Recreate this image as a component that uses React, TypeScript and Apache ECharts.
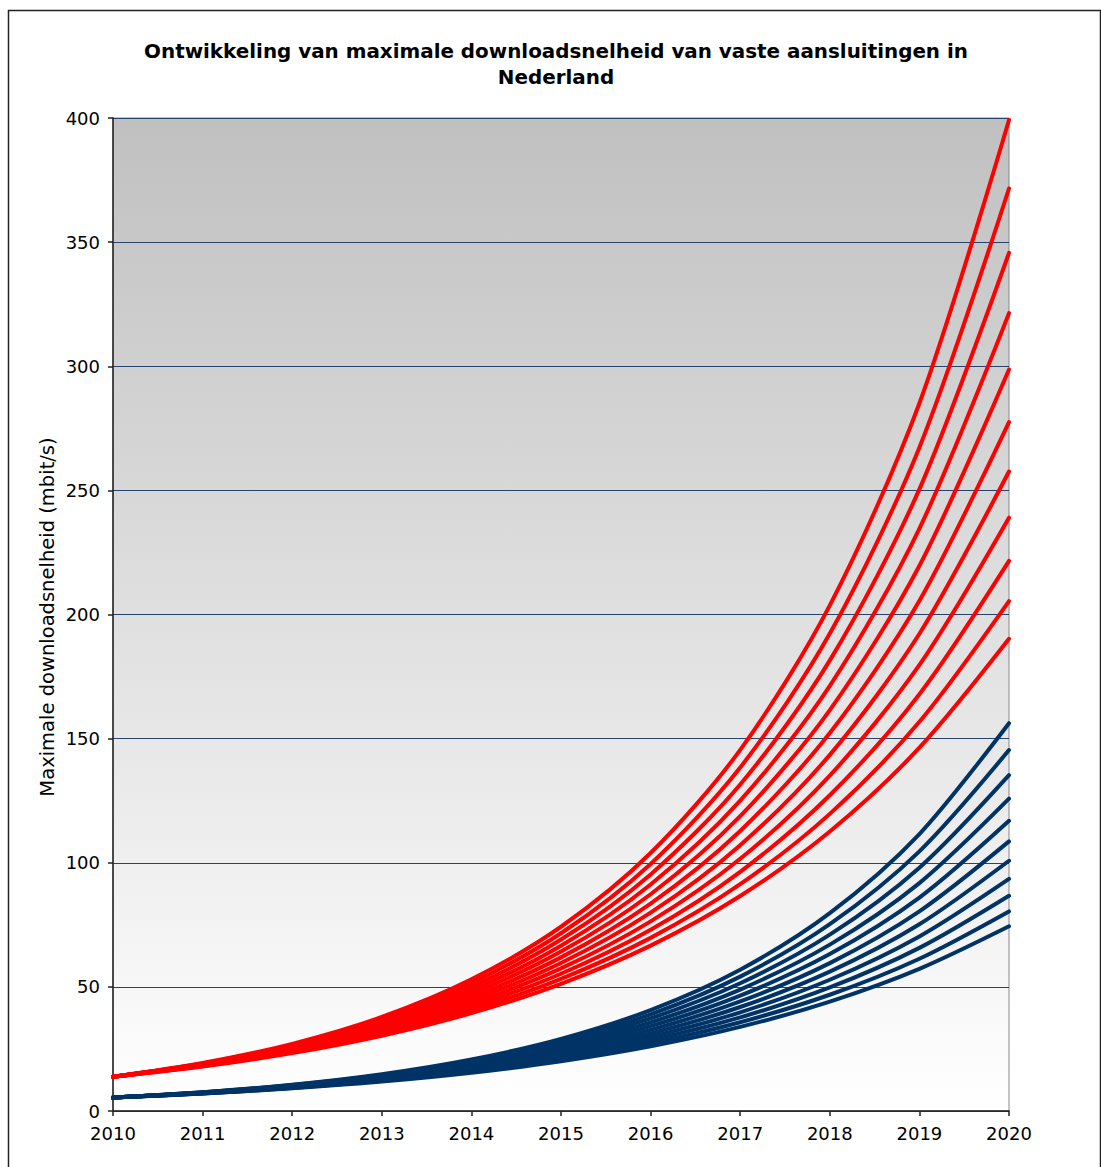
import React, { useEffect, useRef } from "react";
import * as echarts from "echarts";

const years = [2010, 2011, 2012, 2013, 2014, 2015, 2016, 2017, 2018, 2019, 2020];

// Red bundle
const red40 = [13.8, 19.32, 27.05, 37.87, 53.01, 74.22, 103.91, 145.47, 203.66, 285.12, 399.2];
const red39 = [13.8, 19.18, 26.66, 37.06, 51.52, 71.61, 99.53, 138.35, 192.31, 267.31, 371.6];
const red38 = [13.8, 19.04, 26.28, 36.27, 50.05, 69.07, 95.31, 131.53, 181.51, 250.49, 345.7];
const red37 = [13.8, 18.91, 25.9, 35.48, 48.61, 66.6, 91.24, 125.0, 171.26, 234.62, 321.4];
const red36 = [13.8, 18.77, 25.52, 34.71, 47.21, 64.21, 87.32, 118.75, 161.51, 219.65, 298.7];
const red35 = [13.8, 18.63, 25.15, 33.95, 45.84, 61.88, 83.54, 112.78, 152.25, 205.53, 277.5];
const red34 = [13.8, 18.49, 24.78, 33.2, 44.49, 59.62, 79.89, 107.06, 143.46, 192.23, 257.6];
const red33 = [13.8, 18.35, 24.41, 32.47, 43.18, 57.43, 76.38, 101.59, 135.11, 179.7, 239.0];
const red32 = [13.8, 18.22, 24.05, 31.74, 41.9, 55.3, 73.0, 96.36, 127.2, 167.9, 221.6];
const red31 = [13.8, 18.08, 23.68, 31.02, 40.64, 53.24, 69.74, 91.36, 119.69, 156.79, 205.4];
const red30 = [13.8, 17.94, 23.32, 30.32, 39.41, 51.24, 66.61, 86.59, 112.57, 146.34, 190.2];

// Blue bundle
const blue40 = [5.4, 7.56, 10.58, 14.82, 20.75, 29.04, 40.66, 56.92, 79.69, 111.57, 156.2];
const blue39 = [5.4, 7.51, 10.43, 14.5, 20.16, 28.02, 38.95, 54.14, 75.25, 104.6, 145.4];
const blue38 = [5.4, 7.45, 10.28, 14.19, 19.58, 27.03, 37.3, 51.47, 71.03, 98.02, 135.3];
const blue37 = [5.4, 7.4, 10.14, 13.89, 19.02, 26.06, 35.7, 48.92, 67.01, 91.81, 125.8];
const blue36 = [5.4, 7.34, 9.99, 13.58, 18.47, 25.12, 34.17, 46.47, 63.2, 85.95, 116.9];
const blue35 = [5.4, 7.29, 9.84, 13.29, 17.94, 24.21, 32.69, 44.13, 59.58, 80.43, 108.6];
const blue34 = [5.4, 7.24, 9.7, 12.99, 17.41, 23.33, 31.26, 41.89, 56.14, 75.22, 100.8];
const blue33 = [5.4, 7.18, 9.55, 12.7, 16.9, 22.47, 29.89, 39.75, 52.87, 70.32, 93.5];
const blue32 = [5.4, 7.13, 9.41, 12.42, 16.39, 21.64, 28.57, 37.71, 49.77, 65.7, 86.7];
const blue31 = [5.4, 7.07, 9.27, 12.14, 15.9, 20.83, 27.29, 35.75, 46.83, 61.35, 80.4];
const blue30 = [5.4, 7.02, 9.13, 11.86, 15.42, 20.05, 26.07, 33.88, 44.05, 57.26, 74.4];

const redSeries = [red30, red31, red32, red33, red34, red35, red36, red37, red38, red39, red40];
const blueSeries = [blue30, blue31, blue32, blue33, blue34, blue35, blue36, blue37, blue38, blue39, blue40];

const titleLine1 = "Ontwikkeling van maximale downloadsnelheid van vaste aansluitingen in";
const titleLine2 = "Nederland";
const yName = "Maximale downloadsnelheid (mbit/s)";

const FONT = "'DejaVu Sans', Verdana, sans-serif";

export default function App() {
  const ref = useRef<HTMLDivElement>(null);
  useEffect(() => {
    if (!ref.current) return;
    const chart = echarts.init(ref.current, undefined, { renderer: "svg" });
    const mk = (arr: number[], color: string, name: string) => ({
      type: "line",
      name,
      data: years.map((y, i) => [y, arr[i]]),
      symbol: "none",
      smooth: 0.3,
      lineStyle: { color, width: 4, cap: "round", join: "round" },
      z: 3,
    });
    const series: any[] = [];
    blueSeries.forEach((s, i) => series.push(mk(s, "#003366", "blauw" + i)));
    redSeries.forEach((s, i) => series.push(mk(s, "#ff0000", "rood" + i)));

    chart.setOption({
      animation: false,
      backgroundColor: "#ffffff",
      textStyle: { fontFamily: FONT },
      grid: {
        left: 113,
        right: 92,
        top: 118,
        bottom: 56,
        show: true,
        borderColor: "#888888",
        borderWidth: 1,
        backgroundColor: new echarts.graphic.LinearGradient(0, 0, 0, 1, [
          { offset: 0, color: "#c0c0c0" },
          { offset: 1, color: "#ffffff" },
        ]),
      },
      graphic: [
        {
          type: "rect",
          shape: { x: 8.5, y: 10.5, width: 1092, height: 1170 },
          style: { fill: "none", stroke: "#222222", lineWidth: 1.5 },
          silent: true,
          z: 100,
        },
        {
          type: "text",
          x: 556,
          y: 51,
          style: {
            text: titleLine1,
            fontFamily: FONT,
            fontWeight: "bold",
            fontSize: 19.9,
            fill: "#000000",
            textAlign: "center",
            textVerticalAlign: "middle",
          },
        },
        {
          type: "text",
          x: 556,
          y: 77,
          style: {
            text: titleLine2,
            fontFamily: FONT,
            fontWeight: "bold",
            fontSize: 19.9,
            fill: "#000000",
            textAlign: "center",
            textVerticalAlign: "middle",
          },
        },
        {
          type: "text",
          x: 47,
          y: 617,
          rotation: Math.PI / 2,
          style: {
            text: yName,
            fontFamily: FONT,
            fontSize: 19.5,
            fill: "#000000",
            textAlign: "center",
            textVerticalAlign: "middle",
          },
        },
      ],
      xAxis: {
        type: "value",
        min: 2010,
        max: 2020,
        interval: 1,
        axisLine: { show: true, onZero: false, lineStyle: { color: "#222222", width: 1.5 } },
        axisTick: { show: true, inside: false, length: 5, lineStyle: { color: "#222222", width: 1.5 } },
        axisLabel: {
          color: "#000000",
          fontSize: 18,
          fontFamily: FONT,
          margin: 13,
          formatter: (v: number) => String(v),
        },
        splitLine: { show: false },
      },
      yAxis: {
        type: "value",
        min: 0,
        max: 400,
        interval: 50,
        axisLine: { show: true, lineStyle: { color: "#222222", width: 1.5 } },
        axisTick: { show: true, inside: false, length: 5, lineStyle: { color: "#222222", width: 1.5 } },
        axisLabel: { color: "#000000", fontSize: 18, fontFamily: FONT, margin: 13 },
        splitLine: { show: true, lineStyle: { color: "#24436e", width: 1 } },
      },
      series,
    });
    return () => chart.dispose();
  }, []);
  return (
    <div
      ref={ref}
      style={{ position: "absolute", left: 0, top: 0, width: 1101, height: 1167 }}
    />
  );
}
